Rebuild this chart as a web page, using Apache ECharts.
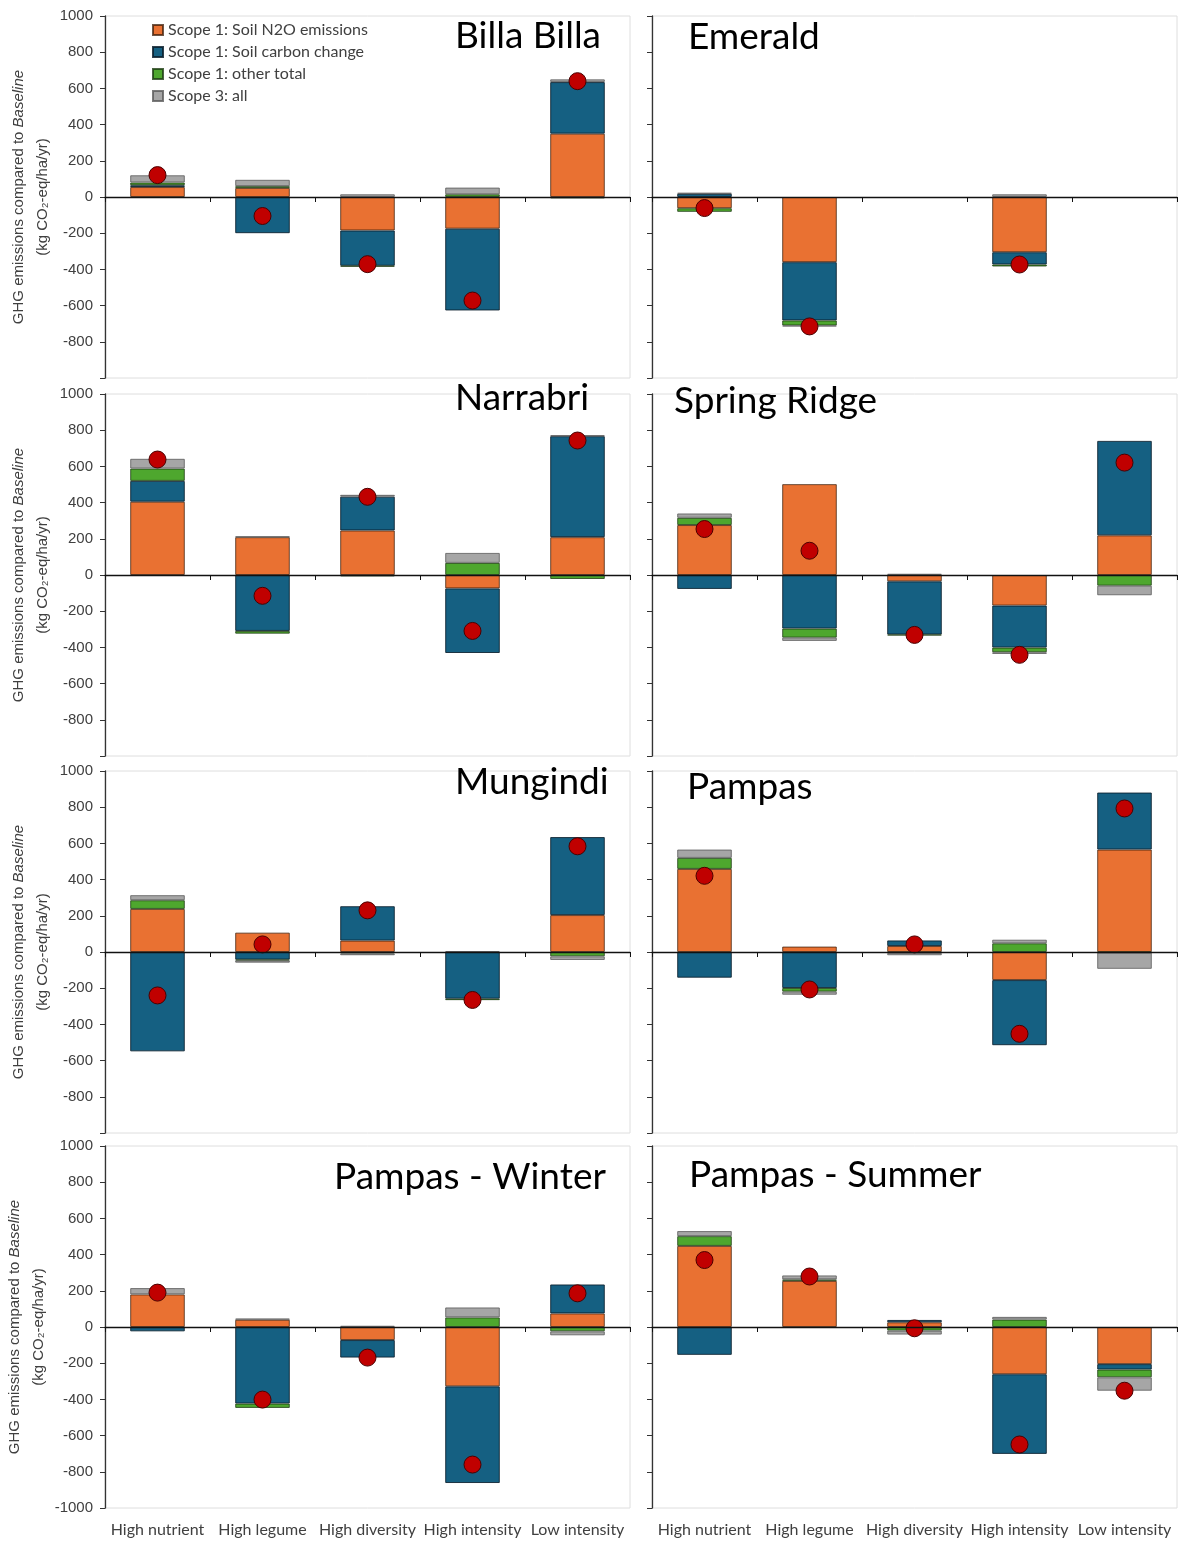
<!DOCTYPE html>
<html>
<head>
<meta charset="utf-8">
<script src="https://cdn.jsdelivr.net/npm/echarts@6/dist/echarts.min.js"></script>
<style>
html, body { margin: 0; padding: 0; background: #fff; }
#chart { width: 1182px; height: 1542px; }
</style>
</head>
<body>
<div id="chart"></div>
<script>
var CATEGORIES = ['High nutrient', 'High legume', 'High diversity', 'High intensity', 'Low intensity'];
var SITES = ['Billa Billa', 'Emerald', 'Narrabri', 'Spring Ridge', 'Mungindi', 'Pampas', 'Pampas - Winter', 'Pampas - Summer'];
var SERIES_NAMES = ['Scope 1: Soil N2O emissions', 'Scope 1: Soil carbon change', 'Scope 1: other total', 'Scope 3: all'];

// one row per site, in SITES order (null = no bar)
var SOIL_N2O = [
    [55, 50, -185, -175, 350],
    [-62, -360, null, -305, null],
    [405, 209, 246, -74, 209],
    [276, 502, -35, -169, 219],
    [238, 107, 63, null, 204],
    [459, 30, 33, -155, 566],
    [180, 40, -72, -328, 75],
    [448, 255, 26, -261, -205]
];
var SOIL_CARBON = [
    [10, -200, -195, -452, 285],
    [18, -322, null, -68, null],
    [115, -309, 187, -357, 558],
    [-77, -296, -294, -232, 522],
    [-549, -42, 190, -258, 431],
    [-142, -199, 31, -360, 315],
    [-24, -423, -97, -534, 160],
    [-154, null, 13, -440, -30]
];
var OTHER_SCOPE1 = [
    [15, 10, -5, 15, -8],
    [-20, -28, null, -11, null],
    [68, -15, -8, 67, -22],
    [40, -50, -5, -26, -59],
    [48, -5, -8, -8, -24],
    [61, -20, -5, 48, -3],
    [null, -24, null, 53, -24],
    [54, 8, -20, 41, -43]
];
var SCOPE3 = [
    [40, 35, 15, 37, 15],
    [5, -5, null, 15, null],
    [54, 4, 10, 55, 5],
    [24, -18, 7, -9, -53],
    [28, -12, -10, 5, -20],
    [46, -17, -13, 20, -90],
    [35, 7, 7, 55, -22],
    [28, 22, -22, 15, -74]
];
var NET = [
    [121, -105, -371, -572, 640],
    [-61, -715, null, -373, null],
    [638, -115, 432, -309, 743],
    [254, 134, -331, -441, 621],
    [-240, 42, 230, -265, 584],
    [421, -207, 42, -452, 793],
    [190, -401, -169, -760, 186],
    [370, 279, -7, -649, -352]
];

var COLORS = ['#E97132', '#156082', '#4EA72E', '#A6A6A6'];
var BORDERS = ['rgba(60,30,10,0.75)', 'rgba(10,30,45,0.85)', 'rgba(30,60,20,0.8)', 'rgba(90,90,90,0.8)'];
var GRID_TOPS = [16, 394, 771, 1146];
var GRID_LEFTS = [105, 652];
var TITLE_POS = [[455, 36], [688, 37], [455, 398], [674, 401], [455, 782], [687, 787], [334, 1177], [689, 1175]];

var chart = echarts.init(document.getElementById('chart'));

var grids = [], xAxes = [], yAxes = [], series = [], titles = [];
var parts = [SOIL_N2O, SOIL_CARBON, OTHER_SCOPE1, SCOPE3];

SITES.forEach(function (site, i) {
    var row = Math.floor(i / 2), col = i % 2;
    var lastRow = row === 3;

    grids.push({
        left: GRID_LEFTS[col], top: GRID_TOPS[row], width: 525, height: 362,
        show: true, borderColor: '#dedede', borderWidth: 1
    });

    // zero line with ticks between categories
    xAxes.push({
        type: 'category', gridIndex: i, data: CATEGORIES, position: 'bottom', z: 10,
        axisLine: { onZero: true, lineStyle: { color: '#111', width: 1.3 } },
        axisTick: { show: true, length: 5, lineStyle: { color: '#111' } },
        axisLabel: { show: false }
    });
    // labels only, at the bottom
    xAxes.push({
        type: 'category', gridIndex: i, data: CATEGORIES, position: 'bottom',
        axisLine: { show: false, onZero: false }, axisTick: { show: false },
        axisLabel: { show: lastRow, interval: 0, margin: 14, fontFamily: 'Lato', fontSize: 16, color: '#404040' }
    });

    yAxes.push({
        type: 'value', gridIndex: i, min: -1000, max: 1000, interval: 200,
        axisLine: { show: true, lineStyle: { color: '#333', width: 1.3 } },
        axisTick: { show: true, length: 5, lineStyle: { color: '#333' } },
        splitLine: { show: false },
        axisLabel: {
            show: col === 0, margin: 12, fontFamily: 'Liberation Sans', fontSize: 15, color: '#404040',
            formatter: function (v) { return (!lastRow && v === -1000) ? '' : String(v); }
        },
        name: col === 0 ? 'GHG emissions compared to {i|Baseline}\n(kg CO₂-eq/ha/yr)' : '',
        nameLocation: 'middle', nameRotate: 90, nameGap: 50,
        nameTextStyle: {
            fontFamily: 'Liberation Sans', fontSize: 15, color: '#404040', lineHeight: 24,
            rich: { i: { fontStyle: 'italic', fontFamily: 'Liberation Sans', fontSize: 15, color: '#404040' } }
        }
    });

    parts.forEach(function (arr, k) {
        series.push({
            name: SERIES_NAMES[k], type: 'bar', xAxisIndex: 2 * i, yAxisIndex: i,
            stack: 'site' + i, data: arr[i], barWidth: '52%',
            itemStyle: { color: COLORS[k], borderColor: BORDERS[k], borderWidth: 1 }
        });
    });

    series.push({
        name: 'Net', type: 'scatter', xAxisIndex: 2 * i, yAxisIndex: i, data: NET[i],
        symbolSize: 17, z: 5,
        itemStyle: { color: '#C00000', opacity: 1, borderColor: '#4a0000', borderWidth: 1 }
    });

    titles.push({
        text: site, left: TITLE_POS[i][0], top: TITLE_POS[i][1] - 18, padding: 0,
        textStyle: { fontFamily: 'Lato', fontSize: 37, fontWeight: 'normal', color: '#000' }
    });
});

chart.setOption({
    animation: false,
    backgroundColor: '#fff',
    title: titles,
    legend: {
        data: SERIES_NAMES, orient: 'vertical', left: 152, top: 22, padding: 0,
        itemWidth: 10, itemHeight: 10, itemGap: 6, icon: 'rect',
        textStyle: { fontFamily: 'Lato', fontSize: 16, color: '#404040', lineHeight: 16 }
    },
    grid: grids,
    xAxis: xAxes,
    yAxis: yAxes,
    series: series
});
</script>
</body>
</html>
